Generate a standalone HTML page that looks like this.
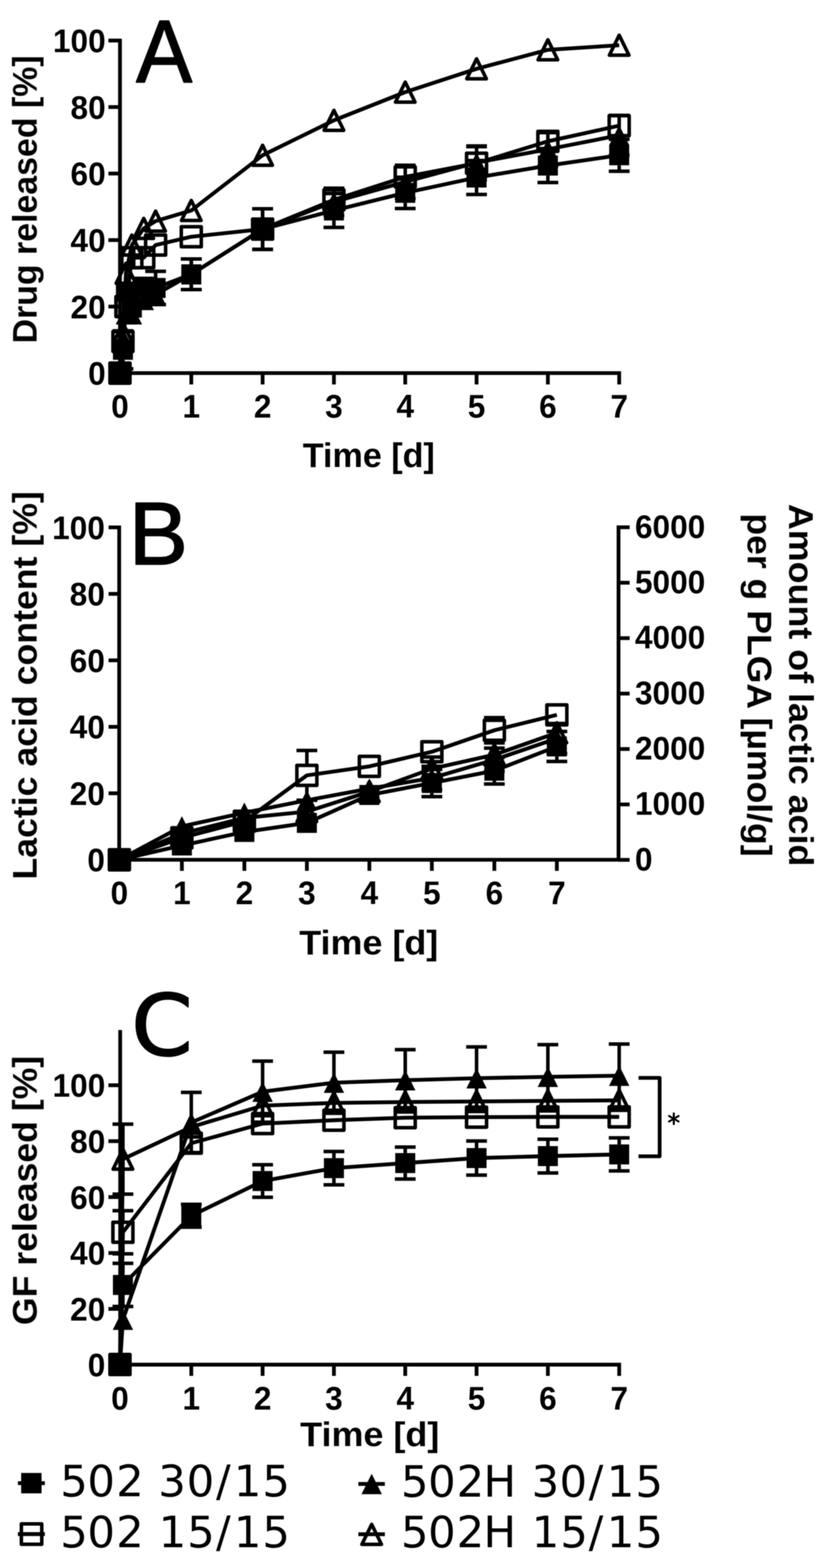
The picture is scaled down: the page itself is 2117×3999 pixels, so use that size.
<!DOCTYPE html>
<html><head><meta charset="utf-8"><title>Release profiles</title><style>
html,body{margin:0;padding:0;background:#fff;overflow:hidden}
svg{display:block}
.a{fill:none;stroke:#000;stroke-width:9.6;stroke-linecap:butt}
.l{fill:none;stroke:#000;stroke-width:9.8;stroke-linejoin:round;stroke-linecap:butt}
.e{fill:none;stroke:#000;stroke-width:9;stroke-linecap:butt}
.o{fill:none;stroke:#000;stroke-width:9;stroke-linejoin:round}
text{fill:#000}
.big{stroke:#000;stroke-width:3.5px;stroke-linejoin:round}
</style></head>
<body><svg width="2117" height="3999" viewBox="0 0 2117 3999">
<defs><filter id="soft" x="0" y="0" width="100%" height="100%" filterUnits="userSpaceOnUse"><feGaussianBlur stdDeviation="0.8"/></filter></defs>
<rect width="2117" height="3999" fill="#fff"/>
<g filter="url(#soft)">
<path class="a" d="M306 98.7V956.3M301.2 951.5H1584.1M276.5 103.4H306" />
<path class="a" d="M276.5 273H306"/>
<path class="a" d="M276.5 442.6H306"/>
<path class="a" d="M276.5 612.3H306"/>
<path class="a" d="M276.5 781.9H306"/>
<path class="a" d="M276.5 951.5H306"/>
<path class="a" d="M487.9 951.5V980.5"/>
<path class="a" d="M669.8 951.5V980.5"/>
<path class="a" d="M851.7 951.5V980.5"/>
<path class="a" d="M1033.6 951.5V980.5"/>
<path class="a" d="M1215.5 951.5V980.5"/>
<path class="a" d="M1397.4 951.5V980.5"/>
<path class="a" d="M1579.3 951.5V980.5"/>
<text transform="translate(269.5,133) scale(0.9600,1)" style="font-family:'Liberation Sans',Arial,sans-serif;font-weight:bold;font-size:84px" text-anchor="end">100</text>
<text transform="translate(269.5,302.6) scale(0.9600,1)" style="font-family:'Liberation Sans',Arial,sans-serif;font-weight:bold;font-size:84px" text-anchor="end">80</text>
<text transform="translate(269.5,472.2) scale(0.9600,1)" style="font-family:'Liberation Sans',Arial,sans-serif;font-weight:bold;font-size:84px" text-anchor="end">60</text>
<text transform="translate(269.5,641.9) scale(0.9600,1)" style="font-family:'Liberation Sans',Arial,sans-serif;font-weight:bold;font-size:84px" text-anchor="end">40</text>
<text transform="translate(269.5,811.5) scale(0.9600,1)" style="font-family:'Liberation Sans',Arial,sans-serif;font-weight:bold;font-size:84px" text-anchor="end">20</text>
<text transform="translate(269.5,981.1) scale(0.9600,1)" style="font-family:'Liberation Sans',Arial,sans-serif;font-weight:bold;font-size:84px" text-anchor="end">0</text>
<text transform="translate(306,1064.6) scale(0.9600,1)" style="font-family:'Liberation Sans',Arial,sans-serif;font-weight:bold;font-size:84px" text-anchor="middle">0</text>
<text transform="translate(487.9,1064.6) scale(0.9600,1)" style="font-family:'Liberation Sans',Arial,sans-serif;font-weight:bold;font-size:84px" text-anchor="middle">1</text>
<text transform="translate(669.8,1064.6) scale(0.9600,1)" style="font-family:'Liberation Sans',Arial,sans-serif;font-weight:bold;font-size:84px" text-anchor="middle">2</text>
<text transform="translate(851.7,1064.6) scale(0.9600,1)" style="font-family:'Liberation Sans',Arial,sans-serif;font-weight:bold;font-size:84px" text-anchor="middle">3</text>
<text transform="translate(1033.6,1064.6) scale(0.9600,1)" style="font-family:'Liberation Sans',Arial,sans-serif;font-weight:bold;font-size:84px" text-anchor="middle">4</text>
<text transform="translate(1215.5,1064.6) scale(0.9600,1)" style="font-family:'Liberation Sans',Arial,sans-serif;font-weight:bold;font-size:84px" text-anchor="middle">5</text>
<text transform="translate(1397.4,1064.6) scale(0.9600,1)" style="font-family:'Liberation Sans',Arial,sans-serif;font-weight:bold;font-size:84px" text-anchor="middle">6</text>
<text transform="translate(1579.3,1064.6) scale(0.9600,1)" style="font-family:'Liberation Sans',Arial,sans-serif;font-weight:bold;font-size:84px" text-anchor="middle">7</text>
<text transform="translate(93.4,875.8) rotate(-90)" style="font-family:'Liberation Sans',Arial,sans-serif;font-weight:bold;font-size:86.4px" text-anchor="start">Drug released [%]</text>
<text transform="translate(772.3,1190.5)" style="font-family:'Liberation Sans',Arial,sans-serif;font-weight:bold;font-size:87px" text-anchor="start">Time [d]</text>
<text transform="translate(347.3,210) scale(0.9480,1)" style="font-family:'Liberation Sans',Arial,sans-serif;font-weight:normal;font-size:226px" text-anchor="start" class="big">A</text>
<polyline class="l" points="306,951.5 313.6,892.1 321.2,743.7 336.3,784.4 366.6,731 396.9,734.4 487.9,699.6 669.8,584.3 851.7,536.8 1033.6,491.8 1215.5,452.8 1397.4,422.3 1579.3,396"/>
<polyline class="l" points="306,951.5 313.6,870.9 321.2,781.9 336.3,657.2 366.6,657.2 396.9,625 487.9,603.8 669.8,584.3 851.7,509.6 1033.6,451.1 1215.5,416.3 1397.4,360.4 1579.3,320.5"/>
<polyline class="l" points="306,951.5 313.6,862.4 321.2,801.4 336.3,801.4 366.6,764.9 396.9,751.3 487.9,699.6 669.8,584.3 851.7,514.7 1033.6,463.8 1215.5,414.7 1397.4,380.7 1579.3,345.1"/>
<polyline class="l" points="306,951.5 313.6,849.7 321.2,697.1 336.3,625 366.6,582.6 396.9,563.9 487.9,536.8 669.8,396 851.7,306.9 1033.6,234.9 1215.5,175.5 1397.4,127.1 1579.3,115.3"/>
<path class="e" d="M313.6 866.6V843.8M287.1 843.8H340.1M313.6 917.6V940.5M287.1 940.5H340.1"/>
<path class="e" d="M396.9 708.9V692M370.4 692H423.4M396.9 759.9V776.8M370.4 776.8H423.4"/>
<path class="e" d="M487.9 674.1V660.6M461.4 660.6H514.4M487.9 725.1V738.6M461.4 738.6H514.4"/>
<path class="e" d="M669.8 558.8V532.5M643.3 532.5H696.3M669.8 609.8V636M643.3 636H696.3"/>
<path class="e" d="M851.7 511.3V493.5M825.2 493.5H878.2M851.7 562.3V580M825.2 580H878.2"/>
<path class="e" d="M1033.6 466.3V452M1007.1 452H1060.1M1033.6 517.3V531.7M1007.1 531.7H1060.1"/>
<path class="e" d="M1215.5 427.3V409.6M1189 409.6H1242M1215.5 478.3V496.1M1189 496.1H1242"/>
<path class="e" d="M1397.4 396.8V379M1370.9 379H1423.9M1397.4 447.8V465.5M1370.9 465.5H1423.9"/>
<path class="e" d="M1579.3 370.5V355.3M1552.8 355.3H1605.8M1579.3 421.5V436.7M1552.8 436.7H1605.8"/>
<path class="e" d="M1215.5 390.8V373.9M1189 373.9H1242M1215.5 441.8V458.8M1189 458.8H1242"/>
<path class="e" d="M487.9 699.6V660.6M461.4 660.6H514.4M487.9 699.6V738.6M461.4 738.6H514.4"/>
<path class="e" d="M669.8 584.3V532.5M643.3 532.5H696.3M669.8 584.3V636M643.3 636H696.3"/>
<path class="e" d="M851.7 514.7V480M825.2 480H878.2M851.7 514.7V549.5M825.2 549.5H878.2"/>
<path class="e" d="M1033.6 463.8V421.4M1007.1 421.4H1060.1M1033.6 463.8V506.2M1007.1 506.2H1060.1"/>
<path class="e" d="M1215.5 414.7V372.2M1189 372.2H1242M1215.5 414.7V457.1M1189 457.1H1242"/>
<path class="e" d="M1397.4 380.7V338.3M1370.9 338.3H1423.9M1397.4 380.7V423.1M1370.9 423.1H1423.9"/>
<path class="e" d="M1579.3 345.1V294.2M1552.8 294.2H1605.8M1579.3 345.1V396M1552.8 396H1605.8"/>
<rect x="280.5" y="926" width="51" height="51"/>
<rect x="288.1" y="866.6" width="51" height="51"/>
<rect x="295.7" y="718.2" width="51" height="51"/>
<rect x="310.8" y="758.9" width="51" height="51"/>
<rect x="341.1" y="705.5" width="51" height="51"/>
<rect x="371.4" y="708.9" width="51" height="51"/>
<rect x="462.4" y="674.1" width="51" height="51"/>
<rect x="644.3" y="558.8" width="51" height="51"/>
<rect x="826.2" y="511.3" width="51" height="51"/>
<rect x="1008.1" y="466.3" width="51" height="51"/>
<rect x="1190" y="427.3" width="51" height="51"/>
<rect x="1371.9" y="396.8" width="51" height="51"/>
<rect x="1553.8" y="370.5" width="51" height="51"/>
<rect class="o" x="280.5" y="926" width="51" height="51"/>
<rect class="o" x="288.1" y="845.4" width="51" height="51"/>
<rect class="o" x="295.7" y="756.4" width="51" height="51"/>
<rect class="o" x="310.8" y="631.7" width="51" height="51"/>
<rect class="o" x="341.1" y="631.7" width="51" height="51"/>
<rect class="o" x="371.4" y="599.5" width="51" height="51"/>
<rect class="o" x="462.4" y="578.3" width="51" height="51"/>
<rect class="o" x="644.3" y="558.8" width="51" height="51"/>
<rect class="o" x="826.2" y="484.1" width="51" height="51"/>
<rect class="o" x="1008.1" y="425.6" width="51" height="51"/>
<rect class="o" x="1190" y="390.8" width="51" height="51"/>
<rect class="o" x="1371.9" y="334.9" width="51" height="51"/>
<rect class="o" x="1553.8" y="295" width="51" height="51"/>
<path d="M306 925.5L332 977.5L280 977.5Z"/>
<path d="M313.6 836.4L339.6 888.4L287.6 888.4Z"/>
<path d="M321.2 775.4L347.2 827.4L295.2 827.4Z"/>
<path d="M336.3 775.4L362.3 827.4L310.3 827.4Z"/>
<path d="M366.6 738.9L392.6 790.9L340.6 790.9Z"/>
<path d="M396.9 725.3L422.9 777.3L370.9 777.3Z"/>
<path d="M487.9 673.6L513.9 725.6L461.9 725.6Z"/>
<path d="M669.8 558.3L695.8 610.3L643.8 610.3Z"/>
<path d="M851.7 488.7L877.7 540.7L825.7 540.7Z"/>
<path d="M1033.6 437.8L1059.6 489.8L1007.6 489.8Z"/>
<path d="M1215.5 388.7L1241.5 440.7L1189.5 440.7Z"/>
<path d="M1397.4 354.7L1423.4 406.7L1371.4 406.7Z"/>
<path d="M1579.3 319.1L1605.3 371.1L1553.3 371.1Z"/>
<path class="o" d="M306 926L331 977L281 977Z"/>
<path class="o" d="M313.6 824.2L338.6 875.2L288.6 875.2Z"/>
<path class="o" d="M321.2 671.6L346.2 722.6L296.2 722.6Z"/>
<path class="o" d="M336.3 599.5L361.3 650.5L311.3 650.5Z"/>
<path class="o" d="M366.6 557.1L391.6 608.1L341.6 608.1Z"/>
<path class="o" d="M396.9 538.4L421.9 589.4L371.9 589.4Z"/>
<path class="o" d="M487.9 511.3L512.9 562.3L462.9 562.3Z"/>
<path class="o" d="M669.8 370.5L694.8 421.5L644.8 421.5Z"/>
<path class="o" d="M851.7 281.4L876.7 332.4L826.7 332.4Z"/>
<path class="o" d="M1033.6 209.4L1058.6 260.4L1008.6 260.4Z"/>
<path class="o" d="M1215.5 150L1240.5 201L1190.5 201Z"/>
<path class="o" d="M1397.4 101.6L1422.4 152.6L1372.4 152.6Z"/>
<path class="o" d="M1579.3 89.8L1604.3 140.8L1554.3 140.8Z"/>
<path class="a" d="M304 1340.2V2197.6M299.2 2192.8H1582.4M1577.6 1340V2197.6M277 1345H304M1577.6 1344.8H1606"/>
<path class="a" d="M277 1514.6H304"/>
<path class="a" d="M277 1684.1H304"/>
<path class="a" d="M277 1853.7H304"/>
<path class="a" d="M277 2023.2H304"/>
<path class="a" d="M277 2192.8H304"/>
<path class="a" d="M1577.6 1486.2H1606"/>
<path class="a" d="M1577.6 1627.5H1606"/>
<path class="a" d="M1577.6 1768.9H1606"/>
<path class="a" d="M1577.6 1910.3H1606"/>
<path class="a" d="M1577.6 2051.6H1606"/>
<path class="a" d="M1577.6 2193H1606"/>
<path class="a" d="M463.9 2192.8V2221"/>
<path class="a" d="M623.3 2192.8V2221"/>
<path class="a" d="M782.7 2192.8V2221"/>
<path class="a" d="M942.1 2192.8V2221"/>
<path class="a" d="M1101.5 2192.8V2221"/>
<path class="a" d="M1260.9 2192.8V2221"/>
<path class="a" d="M1420.3 2192.8V2221"/>
<text transform="translate(267.5,1374.6) scale(0.9600,1)" style="font-family:'Liberation Sans',Arial,sans-serif;font-weight:bold;font-size:84px" text-anchor="end">100</text>
<text transform="translate(267.5,1544.2) scale(0.9600,1)" style="font-family:'Liberation Sans',Arial,sans-serif;font-weight:bold;font-size:84px" text-anchor="end">80</text>
<text transform="translate(267.5,1713.7) scale(0.9600,1)" style="font-family:'Liberation Sans',Arial,sans-serif;font-weight:bold;font-size:84px" text-anchor="end">60</text>
<text transform="translate(267.5,1883.3) scale(0.9600,1)" style="font-family:'Liberation Sans',Arial,sans-serif;font-weight:bold;font-size:84px" text-anchor="end">40</text>
<text transform="translate(267.5,2052.8) scale(0.9600,1)" style="font-family:'Liberation Sans',Arial,sans-serif;font-weight:bold;font-size:84px" text-anchor="end">20</text>
<text transform="translate(267.5,2222.4) scale(0.9600,1)" style="font-family:'Liberation Sans',Arial,sans-serif;font-weight:bold;font-size:84px" text-anchor="end">0</text>
<text transform="translate(1619.5,1371.6) scale(0.9600,1)" style="font-family:'Liberation Sans',Arial,sans-serif;font-weight:bold;font-size:84px" text-anchor="start">6000</text>
<text transform="translate(1619.5,1513) scale(0.9600,1)" style="font-family:'Liberation Sans',Arial,sans-serif;font-weight:bold;font-size:84px" text-anchor="start">5000</text>
<text transform="translate(1619.5,1654.3) scale(0.9600,1)" style="font-family:'Liberation Sans',Arial,sans-serif;font-weight:bold;font-size:84px" text-anchor="start">4000</text>
<text transform="translate(1619.5,1795.7) scale(0.9600,1)" style="font-family:'Liberation Sans',Arial,sans-serif;font-weight:bold;font-size:84px" text-anchor="start">3000</text>
<text transform="translate(1619.5,1937.1) scale(0.9600,1)" style="font-family:'Liberation Sans',Arial,sans-serif;font-weight:bold;font-size:84px" text-anchor="start">2000</text>
<text transform="translate(1619.5,2078.4) scale(0.9600,1)" style="font-family:'Liberation Sans',Arial,sans-serif;font-weight:bold;font-size:84px" text-anchor="start">1000</text>
<text transform="translate(1619.5,2219.8) scale(0.9600,1)" style="font-family:'Liberation Sans',Arial,sans-serif;font-weight:bold;font-size:84px" text-anchor="start">0</text>
<text transform="translate(304.5,2305.6) scale(0.9600,1)" style="font-family:'Liberation Sans',Arial,sans-serif;font-weight:bold;font-size:84px" text-anchor="middle">0</text>
<text transform="translate(463.9,2305.6) scale(0.9600,1)" style="font-family:'Liberation Sans',Arial,sans-serif;font-weight:bold;font-size:84px" text-anchor="middle">1</text>
<text transform="translate(623.3,2305.6) scale(0.9600,1)" style="font-family:'Liberation Sans',Arial,sans-serif;font-weight:bold;font-size:84px" text-anchor="middle">2</text>
<text transform="translate(782.7,2305.6) scale(0.9600,1)" style="font-family:'Liberation Sans',Arial,sans-serif;font-weight:bold;font-size:84px" text-anchor="middle">3</text>
<text transform="translate(942.1,2305.6) scale(0.9600,1)" style="font-family:'Liberation Sans',Arial,sans-serif;font-weight:bold;font-size:84px" text-anchor="middle">4</text>
<text transform="translate(1101.5,2305.6) scale(0.9600,1)" style="font-family:'Liberation Sans',Arial,sans-serif;font-weight:bold;font-size:84px" text-anchor="middle">5</text>
<text transform="translate(1260.9,2305.6) scale(0.9600,1)" style="font-family:'Liberation Sans',Arial,sans-serif;font-weight:bold;font-size:84px" text-anchor="middle">6</text>
<text transform="translate(1420.3,2305.6) scale(0.9600,1)" style="font-family:'Liberation Sans',Arial,sans-serif;font-weight:bold;font-size:84px" text-anchor="middle">7</text>
<text transform="translate(93.4,2243.3) rotate(-90) scale(1.0530,1)" style="font-family:'Liberation Sans',Arial,sans-serif;font-weight:bold;font-size:86.4px" text-anchor="start">Lactic acid content [%]</text>
<text transform="translate(763.3,2434.4) scale(1.0530,1)" style="font-family:'Liberation Sans',Arial,sans-serif;font-weight:bold;font-size:87px" text-anchor="start">Time [d]</text>
<text transform="translate(2013,1285.2) rotate(90) scale(1.0390,1)" style="font-family:'Liberation Sans',Arial,sans-serif;font-weight:bold;font-size:88px" text-anchor="start">Amount of lactic acid</text>
<text transform="translate(1907,1309.3) rotate(90) scale(1.0310,1)" style="font-family:'Liberation Sans',Arial,sans-serif;font-weight:bold;font-size:88px" text-anchor="start">per g PLGA [µmol/g]</text>
<text transform="translate(328.4,1439)" style="font-family:'Liberation Sans',Arial,sans-serif;font-weight:normal;font-size:226px" text-anchor="start" class="big">B</text>
<polyline class="l" points="304.5,2192.8 463.9,2156.3 623.3,2121.8 782.7,2098.7 942.1,2027.5 1101.5,1997 1260.9,1965.6 1420.3,1903.7"/>
<polyline class="l" points="304.5,2192.8 463.9,2136.8 623.3,2094.5 782.7,1977.5 942.1,1954.6 1101.5,1917.3 1260.9,1862.5 1420.3,1823.2"/>
<polyline class="l" points="304.5,2192.8 463.9,2107.6 623.3,2072.7 782.7,2041 942.1,2011.4 1101.5,1984.2 1260.9,1937.6 1420.3,1883.4"/>
<polyline class="l" points="304.5,2192.8 463.9,2125.8 623.3,2086 782.7,2069.9 942.1,2019 1101.5,1960.5 1260.9,1924.9 1420.3,1868.9"/>
<path class="e" d="M1101.5 1971.5V1962.2M1075 1962.2H1128M1101.5 2022.5V2031.7M1075 2031.7H1128"/>
<path class="e" d="M1260.9 1940.1V1931.7M1234.4 1931.7H1287.4M1260.9 1991.1V1999.5M1234.4 1999.5H1287.4"/>
<path class="e" d="M1420.3 1878.2V1865.5M1393.8 1865.5H1446.8M1420.3 1929.2V1941.9M1393.8 1941.9H1446.8"/>
<path class="e" d="M782.7 1952V1913.9M756.2 1913.9H809.2M782.7 2003V2041M756.2 2041H809.2"/>
<path class="e" d="M1260.9 1837V1830.3M1234.4 1830.3H1287.4M1260.9 1888V1894.7M1234.4 1894.7H1287.4"/>
<path class="e" d="M1101.5 1984.2V1954.6M1075 1954.6H1128M1101.5 1984.2V2013.9M1075 2013.9H1128"/>
<path class="e" d="M1260.9 1937.6V1907.9M1234.4 1907.9H1287.4M1260.9 1937.6V1967.3M1234.4 1967.3H1287.4"/>
<path class="e" d="M1420.3 1883.4V1845.2M1393.8 1845.2H1446.8M1420.3 1883.4V1921.5M1393.8 1921.5H1446.8"/>
<path class="e" d="M1101.5 1960.5V1930.8M1075 1930.8H1128M1101.5 1960.5V1990.2M1075 1990.2H1128"/>
<rect x="279" y="2167.3" width="51" height="51"/>
<rect x="438.4" y="2130.8" width="51" height="51"/>
<rect x="597.8" y="2096.3" width="51" height="51"/>
<rect x="757.2" y="2073.2" width="51" height="51"/>
<rect x="916.6" y="2002" width="51" height="51"/>
<rect x="1076" y="1971.5" width="51" height="51"/>
<rect x="1235.4" y="1940.1" width="51" height="51"/>
<rect x="1394.8" y="1878.2" width="51" height="51"/>
<rect class="o" x="279" y="2167.3" width="51" height="51"/>
<rect class="o" x="438.4" y="2111.3" width="51" height="51"/>
<rect class="o" x="597.8" y="2069" width="51" height="51"/>
<rect class="o" x="757.2" y="1952" width="51" height="51"/>
<rect class="o" x="916.6" y="1929.1" width="51" height="51"/>
<rect class="o" x="1076" y="1891.8" width="51" height="51"/>
<rect class="o" x="1235.4" y="1837" width="51" height="51"/>
<rect class="o" x="1394.8" y="1797.7" width="51" height="51"/>
<path d="M304.5 2166.8L330.5 2218.8L278.5 2218.8Z"/>
<path d="M463.9 2081.6L489.9 2133.6L437.9 2133.6Z"/>
<path d="M623.3 2046.7L649.3 2098.7L597.3 2098.7Z"/>
<path d="M782.7 2015L808.7 2067L756.7 2067Z"/>
<path d="M942.1 1985.4L968.1 2037.4L916.1 2037.4Z"/>
<path d="M1101.5 1958.2L1127.5 2010.2L1075.5 2010.2Z"/>
<path d="M1260.9 1911.6L1286.9 1963.6L1234.9 1963.6Z"/>
<path d="M1420.3 1857.4L1446.3 1909.4L1394.3 1909.4Z"/>
<path class="o" d="M304.5 2167.3L329.5 2218.3L279.5 2218.3Z"/>
<path class="o" d="M463.9 2100.3L488.9 2151.3L438.9 2151.3Z"/>
<path class="o" d="M623.3 2060.5L648.3 2111.5L598.3 2111.5Z"/>
<path class="o" d="M782.7 2044.4L807.7 2095.4L757.7 2095.4Z"/>
<path class="o" d="M942.1 1993.5L967.1 2044.5L917.1 2044.5Z"/>
<path class="o" d="M1101.5 1935L1126.5 1986L1076.5 1986Z"/>
<path class="o" d="M1260.9 1899.4L1285.9 1950.4L1235.9 1950.4Z"/>
<path class="o" d="M1420.3 1843.4L1445.3 1894.4L1395.3 1894.4Z"/>
<path class="a" d="M306.5 2627V3485.2M301.7 3480.4H1584.1"/>
<path class="a" d="M276.5 2767.8H306.5"/>
<path class="a" d="M276.5 2910.4H306.5"/>
<path class="a" d="M276.5 3053H306.5"/>
<path class="a" d="M276.5 3195.6H306.5"/>
<path class="a" d="M276.5 3338.2H306.5"/>
<path class="a" d="M276.5 3480.8H306.5"/>
<path class="a" d="M487.9 3480.4V3509"/>
<path class="a" d="M669.8 3480.4V3509"/>
<path class="a" d="M851.7 3480.4V3509"/>
<path class="a" d="M1033.6 3480.4V3509"/>
<path class="a" d="M1215.5 3480.4V3509"/>
<path class="a" d="M1397.4 3480.4V3509"/>
<path class="a" d="M1579.3 3480.4V3509"/>
<text transform="translate(268.5,2797.4) scale(0.9600,1)" style="font-family:'Liberation Sans',Arial,sans-serif;font-weight:bold;font-size:84px" text-anchor="end">100</text>
<text transform="translate(268.5,2940) scale(0.9600,1)" style="font-family:'Liberation Sans',Arial,sans-serif;font-weight:bold;font-size:84px" text-anchor="end">80</text>
<text transform="translate(268.5,3082.6) scale(0.9600,1)" style="font-family:'Liberation Sans',Arial,sans-serif;font-weight:bold;font-size:84px" text-anchor="end">60</text>
<text transform="translate(268.5,3225.2) scale(0.9600,1)" style="font-family:'Liberation Sans',Arial,sans-serif;font-weight:bold;font-size:84px" text-anchor="end">40</text>
<text transform="translate(268.5,3367.8) scale(0.9600,1)" style="font-family:'Liberation Sans',Arial,sans-serif;font-weight:bold;font-size:84px" text-anchor="end">20</text>
<text transform="translate(268.5,3510.4) scale(0.9600,1)" style="font-family:'Liberation Sans',Arial,sans-serif;font-weight:bold;font-size:84px" text-anchor="end">0</text>
<text transform="translate(306,3595.4) scale(0.9600,1)" style="font-family:'Liberation Sans',Arial,sans-serif;font-weight:bold;font-size:84px" text-anchor="middle">0</text>
<text transform="translate(487.9,3595.4) scale(0.9600,1)" style="font-family:'Liberation Sans',Arial,sans-serif;font-weight:bold;font-size:84px" text-anchor="middle">1</text>
<text transform="translate(669.8,3595.4) scale(0.9600,1)" style="font-family:'Liberation Sans',Arial,sans-serif;font-weight:bold;font-size:84px" text-anchor="middle">2</text>
<text transform="translate(851.7,3595.4) scale(0.9600,1)" style="font-family:'Liberation Sans',Arial,sans-serif;font-weight:bold;font-size:84px" text-anchor="middle">3</text>
<text transform="translate(1033.6,3595.4) scale(0.9600,1)" style="font-family:'Liberation Sans',Arial,sans-serif;font-weight:bold;font-size:84px" text-anchor="middle">4</text>
<text transform="translate(1215.5,3595.4) scale(0.9600,1)" style="font-family:'Liberation Sans',Arial,sans-serif;font-weight:bold;font-size:84px" text-anchor="middle">5</text>
<text transform="translate(1397.4,3595.4) scale(0.9600,1)" style="font-family:'Liberation Sans',Arial,sans-serif;font-weight:bold;font-size:84px" text-anchor="middle">6</text>
<text transform="translate(1579.3,3595.4) scale(0.9600,1)" style="font-family:'Liberation Sans',Arial,sans-serif;font-weight:bold;font-size:84px" text-anchor="middle">7</text>
<text transform="translate(93.4,3379.5) rotate(-90) scale(1.0520,1)" style="font-family:'Liberation Sans',Arial,sans-serif;font-weight:bold;font-size:86.4px" text-anchor="start">GF released [%]</text>
<text transform="translate(765.6,3688) scale(1.0540,1)" style="font-family:'Liberation Sans',Arial,sans-serif;font-weight:bold;font-size:87px" text-anchor="start">Time [d]</text>
<text transform="translate(334.7,2690.6) scale(1.0400,1)" style="font-family:'DejaVu Sans',Verdana,sans-serif;font-weight:normal;font-size:216px" text-anchor="start" class="big">C</text>
<path class="a" d="M1628.6 2749H1682.5V2949H1628.6" style="stroke-linejoin:round"/>
<text transform="translate(1702.2,2888.2) scale(0.9200,1)" style="font-family:'DejaVu Sans',Verdana,sans-serif;font-weight:bold;font-size:68px" text-anchor="start">*</text>
<polyline class="l" points="306,3480 313.5,3277.1 487.9,3100.7 669.8,3012.1 851.7,2979.2 1033.6,2966.3 1215.5,2953.5 1397.4,2948.5 1579.3,2944.2"/>
<polyline class="l" points="306,3480 313.5,3142.8 487.9,2915.6 669.8,2865.6 851.7,2857 1033.6,2850.6 1215.5,2849.2 1397.4,2848.5 1579.3,2848.5"/>
<polyline class="l" points="306,3480 313.5,3365.7 487.9,2862.8 669.8,2784.2 851.7,2761.3 1033.6,2754.9 1215.5,2749.9 1397.4,2746.3 1579.3,2743.5"/>
<polyline class="l" points="306,3480 313.5,2956.3 487.9,2874.2 669.8,2819.9 851.7,2812.8 1033.6,2810.6 1215.5,2809.2 1397.4,2807.7 1579.3,2806.3"/>
<path class="e" d="M313.5 3251.6V3222.1M287 3222.1H340M313.5 3302.6V3332.1M287 3332.1H340"/>
<path class="e" d="M487.9 3075.2V3071.6M461.4 3071.6H514.4M487.9 3126.2V3129.7M461.4 3129.7H514.4"/>
<path class="e" d="M669.8 2986.6V2970.6M643.3 2970.6H696.3M669.8 3037.6V3053.5M643.3 3053.5H696.3"/>
<path class="e" d="M851.7 2953.7V2936.7M825.2 2936.7H878.2M851.7 3004.7V3021.7M825.2 3021.7H878.2"/>
<path class="e" d="M1033.6 2940.8V2925.6M1007.1 2925.6H1060.1M1033.6 2991.8V3007.1M1007.1 3007.1H1060.1"/>
<path class="e" d="M1215.5 2928V2909.9M1189 2909.9H1242M1215.5 2979V2997.1M1189 2997.1H1242"/>
<path class="e" d="M1397.4 2923V2905.6M1370.9 2905.6H1423.9M1397.4 2974V2991.4M1370.9 2991.4H1423.9"/>
<path class="e" d="M1579.3 2918.7V2902.1M1552.8 2902.1H1605.8M1579.3 2969.7V2986.3M1552.8 2986.3H1605.8"/>
<path class="e" d="M313.5 3117.3V3087.8M287 3087.8H340M313.5 3168.3V3197.8M287 3197.8H340"/>
<path class="e" d="M487.9 2862.8V2786M461.4 2786H514.4M487.9 2862.8V2939.6M461.4 2939.6H514.4"/>
<path class="e" d="M669.8 2784.2V2706.3M643.3 2706.3H696.3M669.8 2784.2V2862M643.3 2862H696.3"/>
<path class="e" d="M851.7 2761.3V2683.4M825.2 2683.4H878.2M851.7 2761.3V2839.2M825.2 2839.2H878.2"/>
<path class="e" d="M1033.6 2754.9V2677M1007.1 2677H1060.1M1033.6 2754.9V2832.8M1007.1 2832.8H1060.1"/>
<path class="e" d="M1215.5 2749.9V2669.9M1189 2669.9H1242M1215.5 2749.9V2829.9M1189 2829.9H1242"/>
<path class="e" d="M1397.4 2746.3V2664.2M1370.9 2664.2H1423.9M1397.4 2746.3V2828.5M1370.9 2828.5H1423.9"/>
<path class="e" d="M1579.3 2743.5V2662.7M1552.8 2662.7H1605.8M1579.3 2743.5V2824.2M1552.8 2824.2H1605.8"/>
<path class="e" d="M313.5 2956.3V2867M287 2867H340M313.5 2956.3V3045.6M287 3045.6H340"/>
<rect x="280.5" y="3454.5" width="51" height="51"/>
<rect x="288" y="3251.6" width="51" height="51"/>
<rect x="462.4" y="3075.2" width="51" height="51"/>
<rect x="644.3" y="2986.6" width="51" height="51"/>
<rect x="826.2" y="2953.7" width="51" height="51"/>
<rect x="1008.1" y="2940.8" width="51" height="51"/>
<rect x="1190" y="2928" width="51" height="51"/>
<rect x="1371.9" y="2923" width="51" height="51"/>
<rect x="1553.8" y="2918.7" width="51" height="51"/>
<rect class="o" x="280.5" y="3454.5" width="51" height="51"/>
<rect class="o" x="288" y="3117.3" width="51" height="51"/>
<rect class="o" x="462.4" y="2890.1" width="51" height="51"/>
<rect class="o" x="644.3" y="2840.1" width="51" height="51"/>
<rect class="o" x="826.2" y="2831.5" width="51" height="51"/>
<rect class="o" x="1008.1" y="2825.1" width="51" height="51"/>
<rect class="o" x="1190" y="2823.7" width="51" height="51"/>
<rect class="o" x="1371.9" y="2823" width="51" height="51"/>
<rect class="o" x="1553.8" y="2823" width="51" height="51"/>
<path d="M306 3454L332 3506L280 3506Z"/>
<path d="M313.5 3339.7L339.5 3391.7L287.5 3391.7Z"/>
<path d="M487.9 2836.8L513.9 2888.8L461.9 2888.8Z"/>
<path d="M669.8 2758.2L695.8 2810.2L643.8 2810.2Z"/>
<path d="M851.7 2735.3L877.7 2787.3L825.7 2787.3Z"/>
<path d="M1033.6 2728.9L1059.6 2780.9L1007.6 2780.9Z"/>
<path d="M1215.5 2723.9L1241.5 2775.9L1189.5 2775.9Z"/>
<path d="M1397.4 2720.3L1423.4 2772.3L1371.4 2772.3Z"/>
<path d="M1579.3 2717.5L1605.3 2769.5L1553.3 2769.5Z"/>
<path class="o" d="M306 3454.5L331 3505.5L281 3505.5Z"/>
<path class="o" d="M313.5 2930.8L338.5 2981.8L288.5 2981.8Z"/>
<path class="o" d="M487.9 2848.7L512.9 2899.7L462.9 2899.7Z"/>
<path class="o" d="M669.8 2794.4L694.8 2845.4L644.8 2845.4Z"/>
<path class="o" d="M851.7 2787.3L876.7 2838.3L826.7 2838.3Z"/>
<path class="o" d="M1033.6 2785.1L1058.6 2836.1L1008.6 2836.1Z"/>
<path class="o" d="M1215.5 2783.7L1240.5 2834.7L1190.5 2834.7Z"/>
<path class="o" d="M1397.4 2782.2L1422.4 2833.2L1372.4 2833.2Z"/>
<path class="o" d="M1579.3 2780.8L1604.3 2831.8L1554.3 2831.8Z"/>
<path class="l" d="M45.7 3782.6H114.4"/>
<rect x="54" y="3756.6" width="52" height="52"/>
<text x="153.5 222.8 296.3 336.3 403.5 476 550.9 596.2 669.1" y="3816.2" style="font-family:'DejaVu Sans',Verdana,sans-serif;font-weight:normal;font-size:111px">502 30/15</text>
<path class="l" d="M914 3784.7H981.6"/>
<path d="M948 3758.7L974 3810.7L922 3810.7Z"/>
<text x="1022.5 1091.8 1164.6 1233 1273 1355.8 1427 1501.6 1547.5 1620.4" y="3816.8" style="font-family:'DejaVu Sans',Verdana,sans-serif;font-weight:normal;font-size:111px">502H 30/15</text>
<path class="l" d="M45.7 3912.5H114.4"/>
<rect class="o" x="54.5" y="3886.5" width="52" height="52"/>
<text x="153.5 222.8 296.3 336.3 404.4 477.3 550.9 596.2 669.1" y="3945.6" style="font-family:'DejaVu Sans',Verdana,sans-serif;font-weight:normal;font-size:111px">502 15/15</text>
<path class="l" d="M914 3912.8H981.6"/>
<path class="o" d="M948 3887.8L973 3938.8L923 3938.8Z"/>
<text x="1022.5 1091.8 1164.6 1233 1273 1356.1 1429 1501.6 1547.5 1620.4" y="3945.8" style="font-family:'DejaVu Sans',Verdana,sans-serif;font-weight:normal;font-size:111px">502H 15/15</text>
</g>
</svg></body></html>
